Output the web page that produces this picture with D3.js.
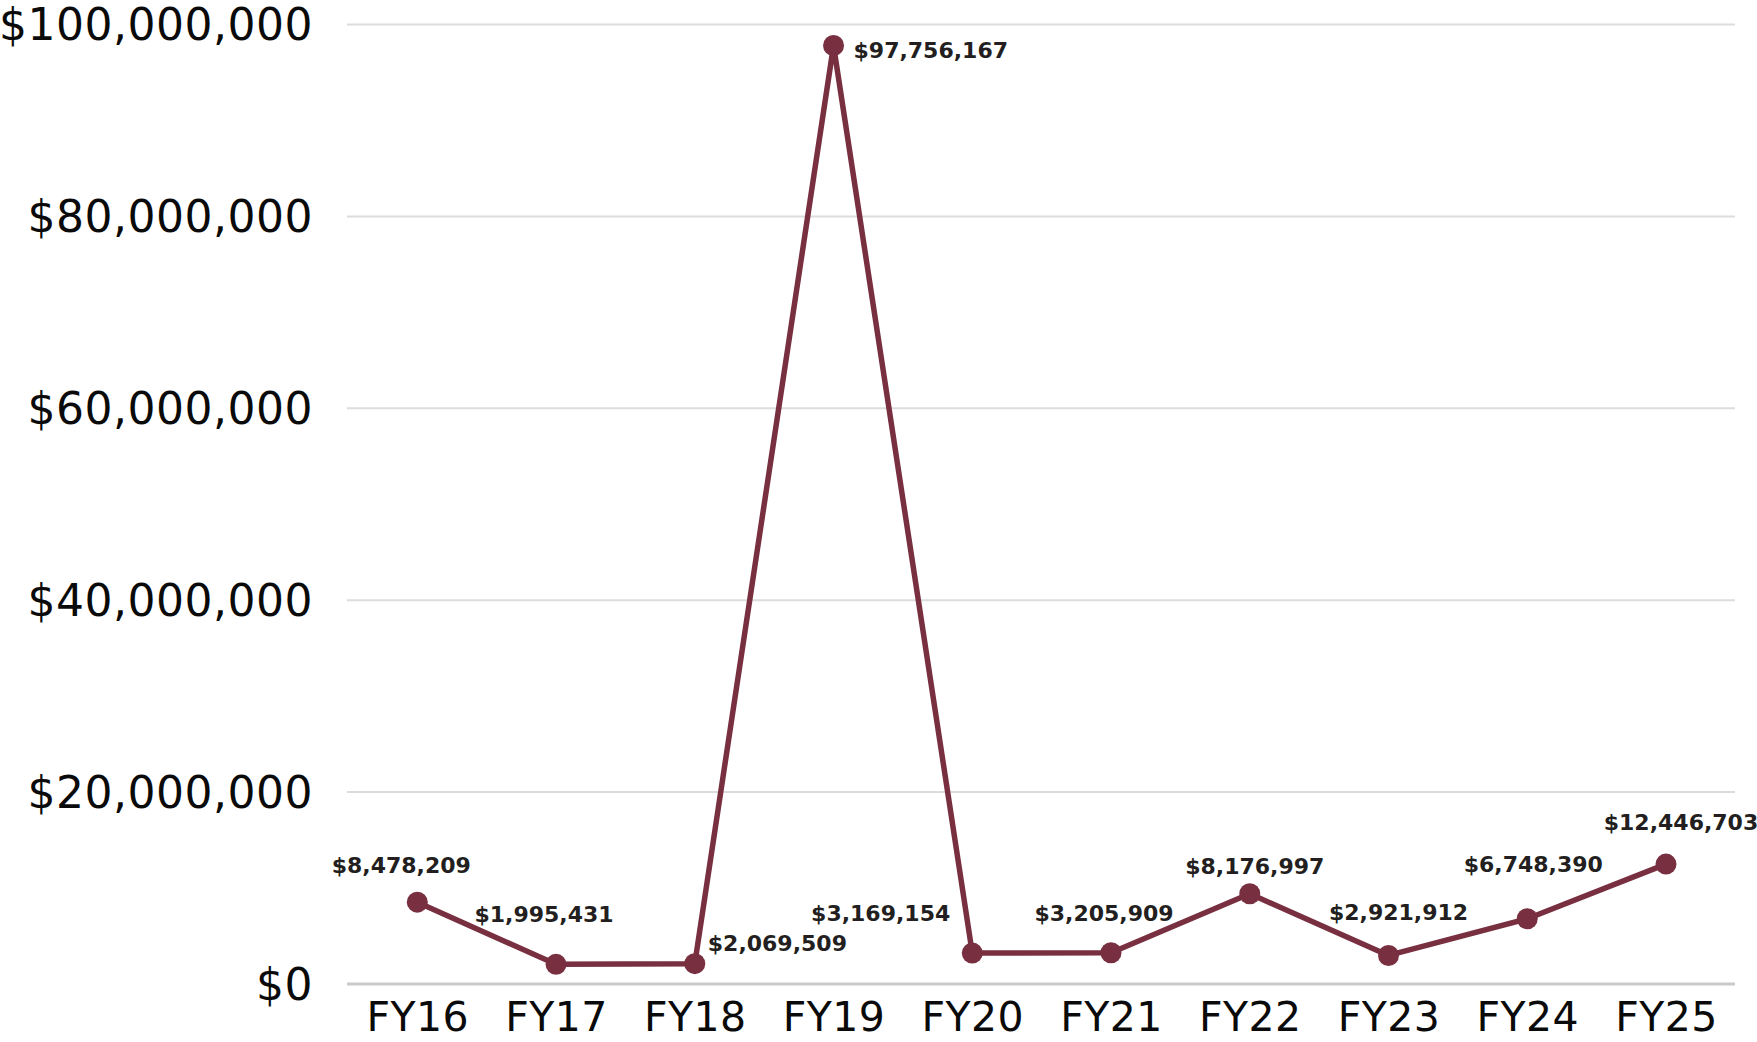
<!DOCTYPE html>
<html>
<head>
<meta charset="utf-8">
<script src="https://cdn.jsdelivr.net/npm/d3@7"></script>
<style>
  html, body { margin: 0; padding: 0; background: #fff; }
  svg { display: block; }
</style>
</head>
<body>
<svg id="chart" width="1757" height="1042"></svg>
<script>
// ---- data ----
const categories = ["FY16","FY17","FY18","FY19","FY20","FY21","FY22","FY23","FY24","FY25"];
// plotted positions
const values = [8478209, 1995431, 2069509, 97756167, 3169154, 3205909, 9350000, 2921912, 6748390, 12446703];
// value labels as printed on the chart
const valueLabels = ["$8,478,209","$1,995,431","$2,069,509","$97,756,167","$3,169,154","$3,205,909","$8,176,997","$2,921,912","$6,748,390","$12,446,703"];
const yTicks = [0, 20000000, 40000000, 60000000, 80000000, 100000000];

// ---- layout (label placement relative to each point) ----
const labelPlacement = [
  {anchor:"middle", dx:-16, dy:-29},
  {anchor:"middle", dx:-12, dy:-42},
  {anchor:"start",  dx:13,  dy:-13},
  {anchor:"start",  dx:20,  dy:12},
  {anchor:"end",    dx:-22, dy:-32},
  {anchor:"middle", dx:-7,  dy:-32},
  {anchor:"middle", dx:5,   dy:-20},
  {anchor:"middle", dx:10,  dy:-35},
  {anchor:"middle", dx:6,   dy:-47},
  {anchor:"middle", dx:15,  dy:-34}
];

(function () {
const svg = d3.select("#chart");
const pLeft = 347, pRight = 1735, pTop = 24, pBottom = 983.5;
const color = "#782f40";

const x = d3.scalePoint().domain(categories).range([417.3, 1666]);
const y = d3.scaleLinear().domain([0, 100000000]).range([pBottom, pTop]);

// y axis + gridlines
const yAxis = svg.append("g")
  .attr("transform", `translate(${pLeft},0)`)
  .call(d3.axisLeft(y).tickValues(yTicks).tickFormat(d3.format("$,"))
        .tickSize(-(pRight - pLeft)).tickPadding(34));
yAxis.select(".domain").remove();
yAxis.selectAll(".tick line")
  .attr("stroke", d => d === 0 ? "#c9c9c9" : "#dcdcdc")
  .attr("stroke-width", d => d === 0 ? 3 : 2);
yAxis.selectAll(".tick text")
  .attr("font-family", "'DejaVu Sans', sans-serif")
  .attr("font-size", 44)
  .attr("letter-spacing", 0.5)
  .attr("fill", "#0a0a0a")
  .attr("dy", "0.36em");

// x axis labels
const xAxis = svg.append("g")
  .attr("transform", `translate(0,${pBottom})`)
  .call(d3.axisBottom(x).tickSize(0).tickPadding(0));
xAxis.select(".domain").remove();
xAxis.selectAll(".tick text")
  .attr("font-family", "'DejaVu Sans', sans-serif")
  .attr("font-size", 41)
  .attr("letter-spacing", 0.4)
  .attr("fill", "#0a0a0a")
  .attr("dy", null)
  .attr("y", 47.5);

// line
const pts = categories.map((c, i) => ({c, v: values[i], label: valueLabels[i], p: labelPlacement[i]}));
svg.append("path")
  .datum(pts)
  .attr("fill", "none")
  .attr("stroke", color)
  .attr("stroke-width", 5.5)
  .attr("stroke-linejoin", "round")
  .attr("d", d3.line().x(d => x(d.c)).y(d => y(d.v)));

// dots
svg.append("g").selectAll("circle")
  .data(pts).join("circle")
  .attr("cx", d => x(d.c))
  .attr("cy", d => y(d.v))
  .attr("r", 10.5)
  .attr("fill", color);

// value labels
svg.append("g").selectAll("text")
  .data(pts).join("text")
  .attr("x", d => x(d.c) + d.p.dx)
  .attr("y", d => y(d.v) + d.p.dy)
  .attr("text-anchor", d => d.p.anchor)
  .attr("font-family", "'DejaVu Sans', sans-serif")
  .attr("font-weight", "bold")
  .attr("font-size", 22)
  .attr("fill", "#231f20")
  .text(d => d.label);
})();
</script>
</body>
</html>
